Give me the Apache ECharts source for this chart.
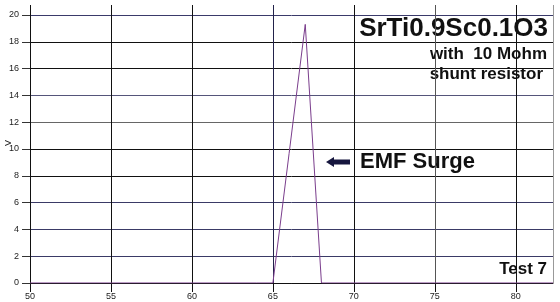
<!DOCTYPE html>
<html><head><meta charset="utf-8">
<script src="https://cdn.jsdelivr.net/npm/echarts@6/dist/echarts.min.js"></script>
<style>html,body{margin:0;padding:0;background:#fff}#c{width:560px;height:302px}</style>
</head><body><div id="c"></div>
<script>
const xValues = [50, 55, 60, 64, 65, 66, 67, 68, 70, 75, 80, 82.3];
const vValues = [0, 0, 0, 0, 0, 9.65, 19.3, 0, 0, 0, 0, 0];
const xTicks = [50, 55, 60, 65, 70, 75, 80];
const yTicks = [0, 2, 4, 6, 8, 10, 12, 14, 16, 18, 20];
const title = 'SrTi0.9Sc0.1O3';
const sub1 = 'with  10 Mohm';
const sub2 = 'shunt resistor';
const note = 'EMF Surge';
const testLabel = 'Test 7';

const chart = echarts.init(document.getElementById('c'), null, {renderer: 'canvas'});
const font = '"Liberation Sans", Arial, sans-serif';
const xMin = xTicks[0], xMax = 82.3;
chart.setOption({
  animation: false,
  backgroundColor: '#fff',
  grid: [
    {left: 30, right: 7, top: 5, bottom: 19, containLabel: false, outerBoundsMode: 'none'},
    {left: 30, right: 7, top: 15, bottom: 19, containLabel: false, outerBoundsMode: 'none'}
  ],
  xAxis: [
    {gridIndex: 0, type: 'value', min: xMin, max: xMax, interval: 5,
     axisLine: {show: false}, axisTick: {show: false}, axisLabel: {show: false},
     splitLine: {show: true, lineStyle: {width: 1, color: ['#111','#111','#111','#22224a','#111','#555','#111','#999']}}},
    {gridIndex: 1, type: 'value', min: xMin, max: xMax, interval: 5,
     axisLine: {show: true, lineStyle: {color: '#111', width: 1}},
     axisTick: {show: true, length: 9, lineStyle: {color: '#111'}},
     axisLabel: {show: true, showMaxLabel: false, fontFamily: font, fontSize: 9, color: '#222', margin: 9},
     splitLine: {show: false}}
  ],
  yAxis: [
    {gridIndex: 0, type: 'value', min: 0, max: 20.75, show: false, splitLine: {show: false}},
    {gridIndex: 1, type: 'value', min: 0, max: 20, interval: 2,
     name: 'V', nameLocation: 'middle', nameGap: 17, nameRotate: 90, nameMoveOverlap: false,
     nameTextStyle: {fontFamily: font, fontSize: 9, color: '#222', padding: [0, 0, 0, 12]},
     axisLine: {show: true, lineStyle: {color: '#111', width: 1}},
     axisTick: {show: true, length: 8, lineStyle: {color: '#333'}},
     axisLabel: {fontFamily: font, fontSize: 9, color: '#222', margin: 11},
     splitLine: {show: true, lineStyle: {width: 1, color: ['#111','#3a3a66','#3a3a66','#3a3a66','#111','#111','#666','#55557a','#111','#111','#3a3a6a']}}}
  ],
  series: [{
    type: 'line', xAxisIndex: 1, yAxisIndex: 1,
    data: xValues.map((x, i) => [x, vValues[i]]),
    symbol: 'none', lineStyle: {color: '#7a3d8c', width: 1}
  }],
  graphic: [
    {type: 'text', style: {text: title, x: 548, y: 29, textAlign: 'right', textVerticalAlign: 'middle', font: 'bold 26px ' + font, fill: '#111'}},
    {type: 'text', style: {text: sub1, x: 547, y: 54, textAlign: 'right', textVerticalAlign: 'middle', font: 'bold 17px ' + font, fill: '#111'}},
    {type: 'text', style: {text: sub2, x: 543, y: 74, textAlign: 'right', textVerticalAlign: 'middle', font: 'bold 17px ' + font, fill: '#111'}},
    {type: 'text', style: {text: note, x: 360, y: 162, textAlign: 'left', textVerticalAlign: 'middle', font: 'bold 22px ' + font, fill: '#111'}},
    {type: 'text', style: {text: testLabel, x: 547, y: 269, textAlign: 'right', textVerticalAlign: 'middle', font: 'bold 17px ' + font, fill: '#111'}},
    {type: 'polygon', shape: {points: [[326,162],[334,157],[334,159.5],[350,159.5],[350,164.5],[334,164.5],[334,167]]}, style: {fill: '#16163e'}}
  ]
});
</script></body></html>
